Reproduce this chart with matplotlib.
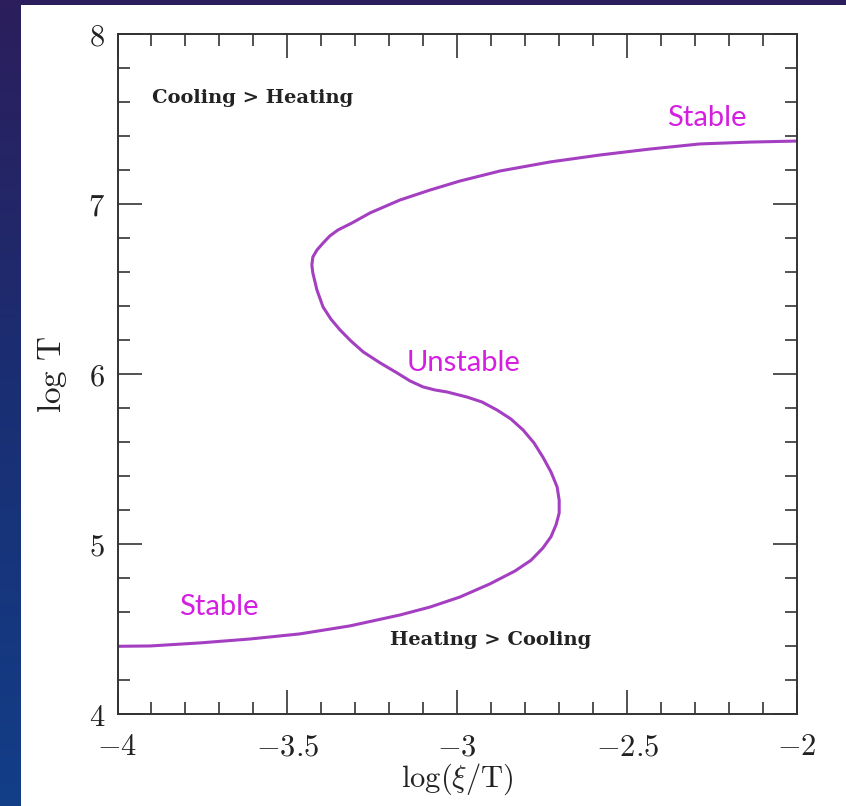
import numpy as np
import matplotlib
matplotlib.use('Agg')
import matplotlib.pyplot as plt
from matplotlib.patches import Rectangle
from matplotlib.ticker import MultipleLocator, FuncFormatter

plt.rcParams['mathtext.fontset'] = 'cm'

# S-curve (thermal equilibrium)
log_xi_T = [-4.0, -3.904, -3.757, -3.610, -3.463, -3.316, -3.169, -3.080, -2.992,
            -2.904, -2.830, -2.783, -2.748, -2.724, -2.709, -2.700, -2.700, -2.706,
            -2.724, -2.748, -2.774, -2.806, -2.842, -2.883, -2.927, -2.971, -3.030,
            -3.066, -3.101, -3.139, -3.177, -3.227, -3.277, -3.313, -3.345, -3.372,
            -3.395, -3.413, -3.425, -3.428, -3.425, -3.413, -3.395, -3.375, -3.351,
            -3.310, -3.257, -3.169, -3.080, -2.992, -2.874, -2.727, -2.580, -2.433,
            -2.286, -2.139, -2.0]
log_T = [4.400, 4.402, 4.420, 4.443, 4.473, 4.520, 4.584, 4.631, 4.690,
         4.767, 4.843, 4.906, 4.978, 5.045, 5.116, 5.184, 5.260, 5.337,
         5.425, 5.513, 5.596, 5.672, 5.737, 5.790, 5.837, 5.866, 5.896,
         5.908, 5.926, 5.961, 6.008, 6.067, 6.132, 6.196, 6.261, 6.325,
         6.396, 6.496, 6.596, 6.643, 6.690, 6.731, 6.772, 6.814, 6.849,
         6.890, 6.949, 7.025, 7.084, 7.137, 7.196, 7.249, 7.290, 7.325,
         7.355, 7.366, 7.372]

black_labels = ['Cooling > Heating', 'Heating > Cooling']
black_pos = [(-3.898, 7.625), (-3.197, 4.437)]
pink_labels = ['Stable', 'Unstable', 'Stable']
pink_pos = [(-2.382, 7.507), (-3.149, 6.065), (-3.819, 4.633)]

W, H = 846, 806
fig = plt.figure(figsize=(W / 100, H / 100), dpi=100)

# slide background: dark gradient with white panel
bg = fig.add_axes([0, 0, 1, 1], zorder=-10)
grad = np.linspace(0, 1, 256).reshape(-1, 1)
cmap = matplotlib.colors.LinearSegmentedColormap.from_list('bg', ['#2c1e5c', '#1a2f74', '#123e88'])
bg.imshow(grad, aspect='auto', cmap=cmap, extent=[0, 1, 0, 1])
bg.set_axis_off()
fig.patches.append(Rectangle((21 / W, 0), 1 - 21 / W, 1 - 5 / H, transform=fig.transFigure,
                             facecolor='white', edgecolor='none', zorder=-5))

ax = fig.add_axes([117.5 / W, 1 - 714.3 / H, (797 - 117.5) / W, (714.3 - 34.3) / H])
ax.set_facecolor('none')
ax.plot(log_xi_T, log_T, color='#a43fc2', lw=2.2, solid_joinstyle='round')

ax.set_xlim(-4, -2)
ax.set_ylim(4, 8)
ax.xaxis.set_major_locator(MultipleLocator(0.5))
ax.xaxis.set_minor_locator(MultipleLocator(0.1))
ax.yaxis.set_major_locator(MultipleLocator(1))
ax.yaxis.set_minor_locator(MultipleLocator(0.2))
fmt = FuncFormatter(lambda v, p: r'$%g$' % v)
ax.xaxis.set_major_formatter(fmt)
ax.yaxis.set_major_formatter(fmt)
ax.tick_params(which='both', direction='in', top=True, right=True, color='#333333', width=1.2)
ax.tick_params(which='major', length=17, labelsize=22, pad=9, labelcolor='#222222')
ax.tick_params(axis='x', which='major', pad=13)
ax.tick_params(which='minor', length=8.5)
for s in ax.spines.values():
    s.set_linewidth(1.4)
    s.set_color('#333333')

ax.set_xlabel(r'$\mathrm{log}(\xi/\mathrm{T})$', fontsize=22, labelpad=0, color='#222222')
ax.set_ylabel(r'$\mathrm{log\ T}$', fontsize=24, labelpad=14, color='#222222')

for lab, (x, y) in zip(black_labels, black_pos):
    ax.text(x, y, lab, fontsize=14, fontweight='bold', family='DejaVu Serif',
            color='#222222', ha='left', va='center')
for lab, (x, y) in zip(pink_labels, pink_pos):
    ax.text(x, y, lab, fontsize=21, family='Lato', color='#d41fe0', ha='left', va='center')

fig.savefig('out.png', dpi=100)
